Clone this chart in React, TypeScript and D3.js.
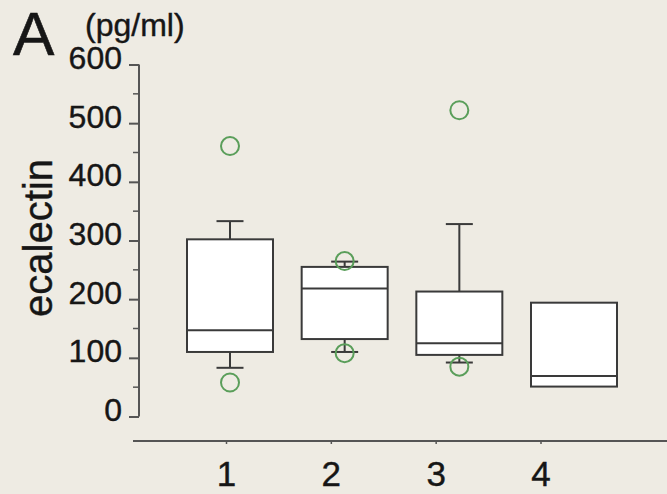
import React, { useEffect, useRef } from 'react';
import * as d3 from 'd3';

// groups on the x axis
const groups = ['1', '2', '3', '4'];

// box statistics (pg/ml)
const q1 = [110, 132, 105, 51];
const medians = [147, 218, 125, 69];
const q3 = [302, 255, 213, 194];
const whiskerLow: (number | null)[] = [83, 110, 92, null];
const whiskerHigh: (number | null)[] = [333, 264, 328, null];
const outliers: number[][] = [[461, 58], [265, 108], [522, 85], []];

const yTicks = [0, 100, 200, 300, 400, 500, 600];
const yMinorTicks = [50, 150, 250, 350, 450, 550];

const App: React.FC = () => {
    const svgRef = useRef<SVGSVGElement | null>(null);

    useEffect(() => {
        if (!svgRef.current) return;
        const svg = d3.select(svgRef.current);
        svg.selectAll('*').remove();

        const width = 667;
        const height = 494;
        const font = "'Liberation Sans', Arial, Helvetica, sans-serif";
        const ink = '#161616';
        const axisColor = '#555';

        svg.append('rect').attr('width', width).attr('height', height).attr('fill', '#eeebe3');

        const y = d3.scaleLinear().domain([0, 600]).range([416.5, 64.5]);

        // boxes and the x axis labels do not share spacing in the original figure
        const xBox = d3.scalePoint<string>().domain(groups).range([230, 574]);
        const xAxisScale = d3.scalePoint<string>().domain(groups).range([226, 540.5]);

        const boxW = 86;
        const capW = 27;
        const axisX = 139;

        // y axis
        const yAxis = d3.axisLeft(y).tickValues(yTicks).tickSize(10).tickFormat(d3.format('d'));
        const gy = svg.append('g').attr('transform', `translate(${axisX},0)`).call(yAxis);
        gy.select('.domain').remove();
        gy.append('line')
            .attr('x1', 0).attr('x2', 0)
            .attr('y1', y(0)).attr('y2', y(600))
            .attr('stroke', axisColor).attr('stroke-width', 2);
        gy.selectAll('.tick line').attr('stroke', axisColor).attr('stroke-width', 2);
        gy.selectAll('.tick text')
            .attr('x', -17)
            .attr('dy', '0.12em')
            .attr('fill', ink)
            .attr('stroke', ink)
            .attr('stroke-width', 0.4)
            .style('font-family', font)
            .style('font-size', '32px');
        gy.selectAll('.minor')
            .data(yMinorTicks)
            .enter()
            .append('line')
            .attr('x1', -6).attr('x2', 0)
            .attr('y1', (d) => y(d)).attr('y2', (d) => y(d))
            .attr('stroke', axisColor).attr('stroke-width', 1.5);

        // x axis
        const xAxisY = 441;
        const xAxis = d3.axisBottom(xAxisScale).tickSize(3).tickSizeOuter(0);
        const gx = svg.append('g').attr('transform', `translate(0,${xAxisY})`).call(xAxis);
        gx.select('.domain').remove();
        gx.append('line')
            .attr('x1', 133).attr('x2', width)
            .attr('stroke', axisColor).attr('stroke-width', 2);
        gx.selectAll('.tick line').attr('stroke', axisColor).attr('stroke-width', 1.5);
        gx.selectAll('.tick text')
            .attr('y', 45)
            .attr('dy', 0)
            .attr('fill', ink)
            .attr('stroke', ink)
            .attr('stroke-width', 0.4)
            .style('font-family', font)
            .style('font-size', '35px');

        // boxes
        const boxes = svg.append('g');
        groups.forEach((g, i) => {
            const cx = xBox(g) as number;
            const stroke = '#3a3a3a';
            if (whiskerHigh[i] !== null) {
                boxes.append('line')
                    .attr('x1', cx).attr('x2', cx)
                    .attr('y1', y(q3[i])).attr('y2', y(whiskerHigh[i] as number))
                    .attr('stroke', stroke).attr('stroke-width', 2);
                boxes.append('line')
                    .attr('x1', cx - capW / 2).attr('x2', cx + capW / 2)
                    .attr('y1', y(whiskerHigh[i] as number)).attr('y2', y(whiskerHigh[i] as number))
                    .attr('stroke', stroke).attr('stroke-width', 2);
            }
            if (whiskerLow[i] !== null) {
                boxes.append('line')
                    .attr('x1', cx).attr('x2', cx)
                    .attr('y1', y(q1[i])).attr('y2', y(whiskerLow[i] as number))
                    .attr('stroke', stroke).attr('stroke-width', 2);
                boxes.append('line')
                    .attr('x1', cx - capW / 2).attr('x2', cx + capW / 2)
                    .attr('y1', y(whiskerLow[i] as number)).attr('y2', y(whiskerLow[i] as number))
                    .attr('stroke', stroke).attr('stroke-width', 2);
            }
            boxes.append('rect')
                .attr('x', cx - boxW / 2)
                .attr('y', y(q3[i]))
                .attr('width', boxW)
                .attr('height', y(q1[i]) - y(q3[i]))
                .attr('fill', '#ffffff')
                .attr('stroke', stroke)
                .attr('stroke-width', 2);
            boxes.append('line')
                .attr('x1', cx - boxW / 2).attr('x2', cx + boxW / 2)
                .attr('y1', y(medians[i])).attr('y2', y(medians[i]))
                .attr('stroke', stroke).attr('stroke-width', 2);
            boxes.selectAll(`.out-${i}`)
                .data(outliers[i])
                .enter()
                .append('circle')
                .attr('cx', cx)
                .attr('cy', (d) => y(d))
                .attr('r', 9)
                .attr('fill', 'none')
                .attr('stroke', '#5a9e5a')
                .attr('stroke-width', 2);
        });

        // labels
        svg.append('text')
            .attr('x', 13).attr('y', 55)
            .attr('fill', ink)
            .attr('stroke', ink)
            .attr('stroke-width', 0.6)
            .style('font-family', font)
            .style('font-size', '62px')
            .text('A');
        svg.append('text')
            .attr('x', 85).attr('y', 36)
            .attr('fill', ink)
            .attr('stroke', ink)
            .attr('stroke-width', 0.4)
            .style('font-family', font)
            .style('font-size', '32px')
            .text('(pg/ml)');
        svg.append('text')
            .attr('transform', 'translate(52,238) rotate(-90)')
            .attr('text-anchor', 'middle')
            .attr('fill', ink)
            .attr('stroke', ink)
            .attr('stroke-width', 0.4)
            .style('font-family', font)
            .style('font-size', '40px')
            .text('ecalectin');
    }, []);

    return (
        <svg
            ref={svgRef}
            width={667}
            height={494}
            style={{ position: 'absolute', left: 0, top: 0, display: 'block' }}
        />
    );
};

export default App;
